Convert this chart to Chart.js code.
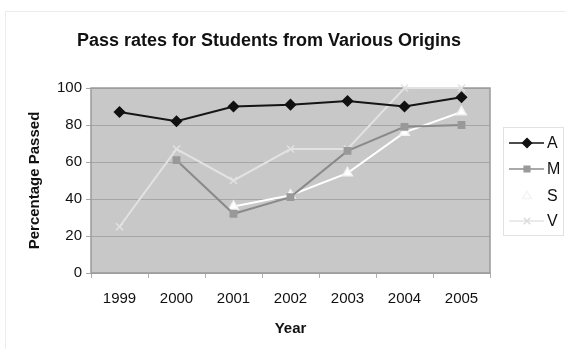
<!DOCTYPE html>
<html>
<head>
<meta charset="utf-8">
<script src="https://cdn.jsdelivr.net/npm/chart.js@4"></script>
<style>
  html, body { margin: 0; padding: 0; background: #fff; }
  #wrap { width: 566px; height: 349px; position: relative; }
</style>
</head>
<body>
<div id="wrap"><canvas id="myChart" width="566" height="349"></canvas></div>
<script>
var years = ["1999", "2000", "2001", "2002", "2003", "2004", "2005"];
var seriesA = [87, 82, 90, 91, 93, 90, 95];
var seriesM = [null, 61, 32, 41, 66, 79, 80];
var seriesS = [null, null, 36, 42, 54, 76, 87];
var seriesV = [25, 67, 50, 67, 67, 100, 100];
var yTicks = [0, 20, 40, 60, 80, 100];

var chartTitle = "Pass rates for Students from Various Origins";
var fontName = "'Liberation Sans', Arial, sans-serif";

var legendItems = [
  { name: "A", line: "#111111", point: "rectRot", fill: "#111111", stroke: "#111111", r: 4.5 },
  { name: "M", line: "#8c8c8c", point: "rect", fill: "#9a9a9a", stroke: "#9a9a9a", r: 4 },
  { name: "S", line: "#ffffff", point: "triangle", fill: "#ffffff", stroke: "#f4f4f4", r: 5 },
  { name: "V", line: "#e4e4e4", point: "crossRot", fill: "#e4e4e4", stroke: "#dcdcdc", r: 4.5 }
];

// background, plot area, title, legend
var decor = {
  id: "decor",
  beforeDraw: function (chart) {
    var ctx = chart.ctx;
    var a = chart.chartArea;
    ctx.save();
    ctx.strokeStyle = "#ececec";
    ctx.lineWidth = 1;
    ctx.strokeRect(5.5, 11.5, 570, 345);
    ctx.fillStyle = "#c8c8c8";
    ctx.fillRect(a.left, a.top, a.right - a.left, a.bottom - a.top);
    ctx.restore();
  },
  beforeDatasetsDraw: function (chart) {
    var ctx = chart.ctx;
    var a = chart.chartArea;
    ctx.save();
    ctx.strokeStyle = "#9a9a9a";
    ctx.lineWidth = 1.5;
    ctx.strokeRect(a.left, a.top, a.right - a.left, a.bottom - a.top);
    ctx.restore();
  },
  afterDraw: function (chart) {
    var ctx = chart.ctx;
    ctx.save();
    ctx.fillStyle = "#111";
    ctx.font = "bold 18px " + fontName;
    ctx.textAlign = "center";
    ctx.textBaseline = "middle";
    ctx.fillText(chartTitle, 269, 41);

    // legend box
    ctx.fillStyle = "#ffffff";
    ctx.fillRect(503.5, 127.5, 60, 108);
    ctx.strokeStyle = "#e2e2e2";
    ctx.lineWidth = 1;
    ctx.strokeRect(503.5, 127.5, 60, 108);
    var ys = [143, 169, 196, 221];
    ctx.font = "16px " + fontName;
    ctx.textAlign = "left";
    legendItems.forEach(function (it, i) {
      var y = ys[i];
      ctx.strokeStyle = it.line;
      ctx.lineWidth = 1.5;
      ctx.beginPath();
      ctx.moveTo(509, y);
      ctx.lineTo(544, y);
      ctx.stroke();
      ctx.fillStyle = it.fill;
      ctx.strokeStyle = it.stroke;
      Chart.helpers.drawPoint(ctx, { pointStyle: it.point, radius: it.r, borderWidth: 1.5 }, 527, y);
      ctx.fillStyle = "#111";
      ctx.fillText(it.name, 547, y + 1);
    });
    ctx.restore();
  }
};

function makeSet(label, data, lineColor, style, fill, stroke, r) {
  return {
    label: label,
    data: data,
    borderColor: lineColor,
    borderWidth: 2,
    pointStyle: style,
    pointRadius: r,
    pointBackgroundColor: fill,
    pointBorderColor: stroke,
    pointBorderWidth: 1.5,
    tension: 0,
    spanGaps: false,
    clip: false
  };
}

new Chart(document.getElementById("myChart"), {
  type: "line",
  data: {
    labels: years,
    datasets: [
      makeSet("A", seriesA, "#151515", "rectRot", "#111", "#111", 5),
      makeSet("M", seriesM, "#8a8a8a", "rect", "#999", "#999", 4.5),
      makeSet("S", seriesS, "#ffffff", "triangle", "#fff", "#f2f2f2", 5.5),
      makeSet("V", seriesV, "#e2e2e2", "crossRot", "#e2e2e2", "#e2e2e2", 5)
    ]
  },
  options: {
    responsive: false,
    animation: false,
    devicePixelRatio: 1,
    layout: { padding: { top: 88, right: 76, left: 0, bottom: 0 } },
    plugins: {
      legend: { display: false },
      title: { display: false },
      tooltip: { enabled: false }
    },
    scales: {
      x: {
        offset: true,
        afterFit: function (s) { s.height = 76; },
        grid: { offset: true, drawOnChartArea: false, drawTicks: true, tickLength: 5, color: "#b0b0b0" },
        border: { display: false },
        ticks: { color: "#111", padding: 12, font: { size: 15, family: fontName } },
        title: {
          display: true, text: "Year", color: "#111",
          font: { size: 15, weight: "bold", family: fontName },
          padding: { top: 0, bottom: 11 }
        }
      },
      y: {
        min: 0,
        max: 100,
        afterFit: function (s) { s.width = 91; },
        afterBuildTicks: function (s) { s.ticks = yTicks.map(function (v) { return { value: v }; }); },
        grid: { color: "#a6a6a6", lineWidth: 1, drawTicks: true, tickLength: 5 },
        border: { display: false },
        ticks: { color: "#111", padding: 4, font: { size: 15, family: fontName } },
        title: {
          display: true, text: "Percentage Passed", color: "#111",
          font: { size: 15, weight: "bold", family: fontName },
          padding: { top: 26, bottom: 0 }
        }
      }
    }
  },
  plugins: [decor]
});
</script>
</body>
</html>
